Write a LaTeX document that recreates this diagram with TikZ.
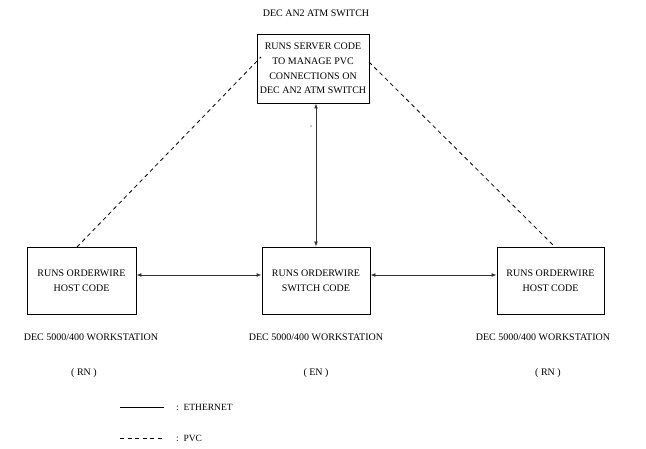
\documentclass[tikz,border=0pt]{standalone}
\usepackage{fontspec}
\setmainfont{Liberation Serif}
\usetikzlibrary{arrows.meta}
\tikzset{
  box/.style={draw, line width=0.9pt, align=center, inner sep=0pt, font=\fontsize{10}{14.7}\selectfont},
  lbl/.style={inner sep=0pt, font=\fontsize{10}{12}\selectfont},
  legend/.style={inner sep=0pt, anchor=west, font=\fontsize{9.5}{11}\selectfont},
  wire/.style={line width=0.9pt, color=black!80, {Latex[length=5pt,width=4pt]}-{Latex[length=5pt,width=4pt]}},
  pvc/.style={line width=0.8pt, dash pattern=on 4pt off 3.5pt},
}

\begin{document}
\begin{tikzpicture}[x=1pt,y=-1pt]
			\useasboundingbox (0,0) rectangle (646,449);
			%%%%% START %%%%%
			
			\node[lbl] (title) at (316, 13) {DEC AN2 ATM SWITCH};
			\node[box, minimum width=112pt, minimum height=69pt] (server) at (313, 68.5)
			  {RUNS SERVER CODE\\TO MANAGE PVC\\CONNECTIONS ON\\DEC AN2 ATM SWITCH};
			
			\node[box, minimum width=109pt, minimum height=67pt] (lhost) at (81.5, 280.5) {RUNS ORDERWIRE\\HOST CODE};
			\node[box, minimum width=108pt, minimum height=67pt] (switch) at (316, 280.5) {RUNS ORDERWIRE\\SWITCH CODE};
			\node[box, minimum width=107pt, minimum height=67pt] (rhost) at (550.5, 280.5) {RUNS ORDERWIRE\\HOST CODE};
			
			% ethernet
			\draw[wire] ([yshift=5.5pt]lhost.east) -- ([yshift=5.5pt]switch.west);
			\draw[wire] ([yshift=5.5pt]switch.east) -- ([yshift=5.5pt]rhost.west);
			\draw[wire] (switch.north) -- (switch.north |- server.south);
			\fill (311, 126) circle (0.6);
			
			% pvc
			\coordinate (lpvc) at (77, 247);
			\coordinate (rpvc) at (555, 247);
			\coordinate (slpvc) at (261, 57);
			\coordinate (srpvc) at (369, 62);
			\draw[pvc] (lpvc) -- (slpvc);
			\draw[pvc] (srpvc) -- (rpvc);
			
			\node[lbl] (lws) at (91, 337) {DEC 5000/400 WORKSTATION};
			\node[lbl] (ews) at (316, 337) {DEC 5000/400 WORKSTATION};
			\node[lbl] (rws) at (543, 337) {DEC 5000/400 WORKSTATION};
			\node[lbl] (lrn) at (84, 373) {( RN )};
			\node[lbl] (en) at (316, 373) {( EN )};
			\node[lbl] (rrn) at (548, 373) {( RN )};
			
			% legend
			\coordinate (eth0) at (120, 407);
			\coordinate (eth1) at (164, 407);
			\draw[line width=0.9pt] (eth0) -- (eth1);
			\node[legend] (ethl) at (176, 407) {:\ \ ETHERNET};
			\coordinate (pvc0) at (120, 438);
			\coordinate (pvc1) at (164, 438);
			\draw[pvc] (pvc0) -- (pvc1);
			\node[legend] (pvcl) at (176, 438) {:\ \ PVC};
			
			%%%%% END %%%%%
\end{tikzpicture}
\end{document}
